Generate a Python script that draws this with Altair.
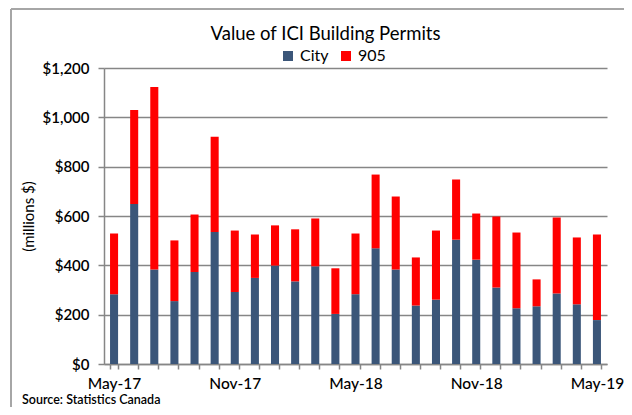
import altair as alt
import pandas as pd

months = ["May-17", "Jun-17", "Jul-17", "Aug-17", "Sep-17", "Oct-17", "Nov-17", "Dec-17",
          "Jan-18", "Feb-18", "Mar-18", "Apr-18", "May-18", "Jun-18", "Jul-18", "Aug-18",
          "Sep-18", "Oct-18", "Nov-18", "Dec-18", "Jan-19", "Feb-19", "Mar-19", "Apr-19", "May-19"]
city = [283, 649, 383, 255, 373, 535, 292, 349, 399, 335, 396, 203, 283,
        469, 383, 237, 261, 504, 423, 310, 226, 234, 286, 242, 178]
r905 = [246, 381, 740, 246, 233, 386, 249, 176, 163, 211, 194, 185, 246,
        299, 296, 195, 280, 244, 187, 288, 307, 109, 308, 271, 347]
series = ["City", "905"]
colors = ["#3B5679", "#FF0000"]
shown_labels = ["May-17", "Nov-17", "May-18", "Nov-18", "May-19"]
y_ticks = [0, 200, 400, 600, 800, 1000, 1200]
title_text = "Value of ICI Building Permits"
source_text = "Source: Statistics Canada"

rows = []
for m, c, r in zip(months, city, r905):
    rows.append({"month": m, "series": "City", "value": c, "ord": 0})
    rows.append({"month": m, "series": "905", "value": r, "ord": 1})
df = pd.DataFrame(rows)

FONT = "Lato"
label_expr = "indexof(" + str(shown_labels) + ", datum.value) >= 0 ? datum.value : ''"

bars = alt.Chart(df).mark_bar().encode(
    x=alt.X("month:N", sort=months,
            scale=alt.Scale(paddingInner=0.6, paddingOuter=0.3),
            axis=alt.Axis(title=None, labelAngle=0, labelExpr=label_expr,
                          labelFont=FONT, labelFontSize=15.5, labelFontWeight=500,
                          labelColor="black",
                          labelPadding=7, tickBand="extent", tickSize=5,
                          tickColor="#868686", domainColor="#868686",
                          tickWidth=1.5, domainWidth=1.5, grid=False)),
    y=alt.Y("value:Q", stack="zero",
            scale=alt.Scale(domain=[0, 1200], nice=False),
            axis=alt.Axis(values=y_ticks, format="$,.0f", title="(millions $)",
                          titleFont=FONT, titleFontSize=15, titleFontWeight="normal",
                          titleColor="black", titlePadding=6,
                          labelFont=FONT, labelFontSize=15, labelFontWeight=600,
                          labelColor="black", labelPadding=9, tickSize=6,
                          tickColor="#868686", domainColor="#868686",
                          tickWidth=1.5, domainWidth=1.5,
                          gridColor="#868686", gridWidth=1.5)),
    color=alt.Color("series:N", sort=series,
                    scale=alt.Scale(domain=series, range=colors),
                    legend=alt.Legend(title=None, orient="none", legendX=176, legendY=-20,
                                      direction="horizontal", symbolType="square",
                                      symbolSize=100, symbolStrokeWidth=0,
                                      labelFont=FONT, labelFontSize=16, labelColor="black",
                                      columnPadding=9, labelOffset=4, padding=0)),
    order=alt.Order("ord:Q"),
)

frame = alt.Chart(alt.Data(values=[{}])).mark_rule(color="#A6A6A6", strokeWidth=2).encode(
    x=alt.value(-93), y=alt.value(-59), y2=alt.value(360))
frame_top = alt.Chart(alt.Data(values=[{}])).mark_rule(color="#A6A6A6", strokeWidth=2).encode(
    x=alt.value(-93), x2=alt.value(540), y=alt.value(-59))
title = alt.Chart(alt.Data(values=[{"t": title_text}])).mark_text(
    align="center", baseline="alphabetic", font=FONT, fontSize=18.5, color="black"
).encode(x=alt.value(221.5), y=alt.value(-28), text="t:N")
source = alt.Chart(alt.Data(values=[{"t": source_text}])).mark_text(
    align="left", baseline="middle", font=FONT, fontSize=12.5, fontWeight=600, color="black"
).encode(x=alt.value(-82), y=alt.value(332), text="t:N")

chart = alt.layer(frame, frame_top, bars, title, source).properties(
    width=503, height=296,
    autosize=alt.AutoSizeParams(type="none"),
    padding={"left": 96, "top": 60, "right": 17, "bottom": 43},
).configure_view(stroke=None).configure_axisY(grid=True)

chart.save("out.html", embed_options={"renderer": "svg", "actions": False})
